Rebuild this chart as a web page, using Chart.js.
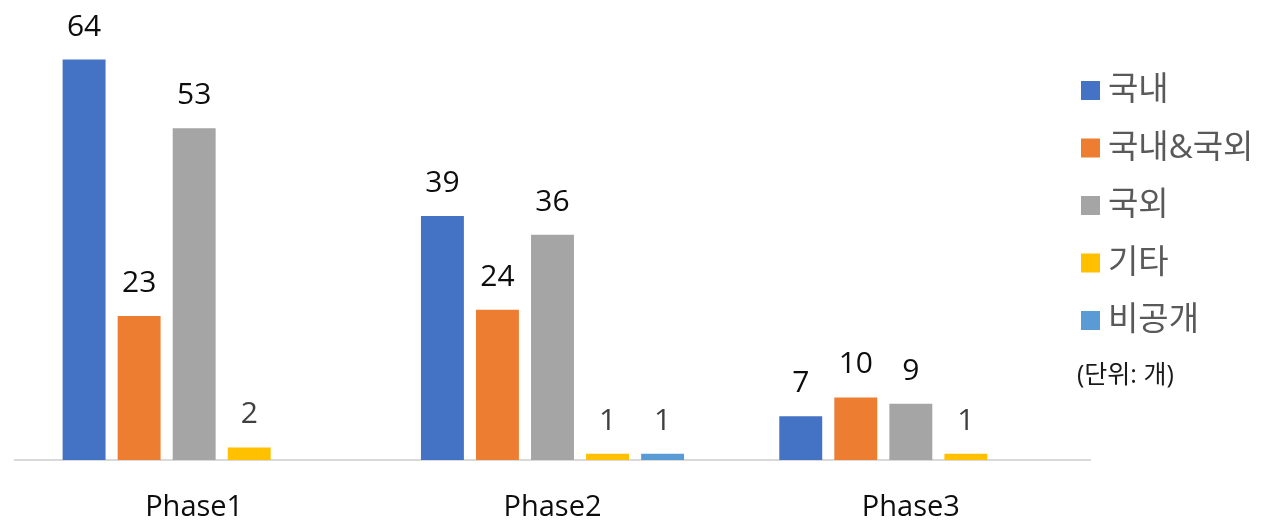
<!DOCTYPE html>
<html>
<head>
<meta charset="utf-8">
<script src="https://cdn.jsdelivr.net/npm/chart.js@4/dist/chart.umd.min.js"></script>
<style>
  html, body { margin: 0; padding: 0; background: #fff; }
  #wrap { width: 1261px; height: 522px; }
</style>
</head>
<body>
<div id="wrap"><canvas id="chart" width="1261" height="522"></canvas></div>
<script>
// --- data ---
const categories = ['Phase1', 'Phase2', 'Phase3'];
const seriesNames = ['국내', '국내&국외', '국외', '기타', '비공개'];
const domestic = [64, 39, 7];
const both = [23, 24, 10];
const foreign = [53, 36, 9];
const other = [2, 1, 1];
const undisclosed = [null, 1, null];
const seriesColors = ['#4472C4', '#ED7D31', '#A5A5A5', '#FFC000', '#5B9BD5'];
const labelColors = ['#0d0d0d', '#0d0d0d', '#0d0d0d', '#404040', '#404040'];
const unitNote = '(단위: 개)';

const FONT = "'Open Sans', 'Noto Sans CJK KR', sans-serif";

// value labels above each bar
const valueLabels = {
    id: 'valueLabels',
    afterDatasetsDraw(chart) {
        const ctx = chart.ctx;
        ctx.save();
        ctx.font = `30px ${FONT}`;
        ctx.textAlign = 'center';
        ctx.textBaseline = 'alphabetic';
        chart.data.datasets.forEach((ds, i) => {
            ctx.fillStyle = labelColors[i];
            chart.getDatasetMeta(i).data.forEach((bar, j) => {
                const v = ds.data[j];
                if (v === null || v === undefined) return;
                ctx.fillText(String(v), bar.x, bar.y - 24);
            });
        });
        ctx.restore();
    }
};

// legend drawn on the right side
const sideLegend = {
    id: 'sideLegend',
    afterDraw(chart) {
        const ctx = chart.ctx;
        ctx.save();
        const x0 = 1081;
        const startY = 90;
        const step = 57.5;
        ctx.textBaseline = 'middle';
        ctx.textAlign = 'left';
        chart.data.datasets.forEach((ds, i) => {
            const cy = startY + i * step;
            ctx.fillStyle = ds.backgroundColor;
            ctx.fillRect(x0, cy - 9, 19, 19);
            ctx.fillStyle = '#595959';
            ctx.font = `33px ${FONT}`;
            ctx.fillText(ds.label, x0 + 27, cy + 1);
        });
        ctx.fillStyle = '#1a1a1a';
        ctx.font = `25px ${FONT}`;
        ctx.fillText(unitNote, x0 - 4, startY + 5 * step - 2);
        ctx.restore();
    }
};

const seriesData = [domestic, both, foreign, other, undisclosed];

new Chart(document.getElementById('chart'), {
    type: 'bar',
    data: {
        labels: categories,
        datasets: seriesNames.map((name, i) => ({
            label: name,
            data: seriesData[i],
            backgroundColor: seriesColors[i],
            categoryPercentage: 0.768,
            barPercentage: 0.78
        }))
    },
    options: {
        responsive: false,
        animation: false,
        layout: { padding: { left: 15, right: 171, top: 22, bottom: 0 } },
        plugins: {
            legend: { display: false },
            tooltip: { enabled: false }
        },
        scales: {
            x: {
                grid: { display: false },
                border: { display: true, color: '#D9D9D9', width: 2 },
                ticks: {
                    color: '#0d0d0d',
                    font: { family: FONT, size: 29 },
                    padding: 22
                },
                afterFit(scale) { scale.height = 62; }
            },
            y: {
                display: false,
                min: 0,
                max: 70
            }
        }
    },
    plugins: [valueLabels, sideLegend]
});
</script>
</body>
</html>
